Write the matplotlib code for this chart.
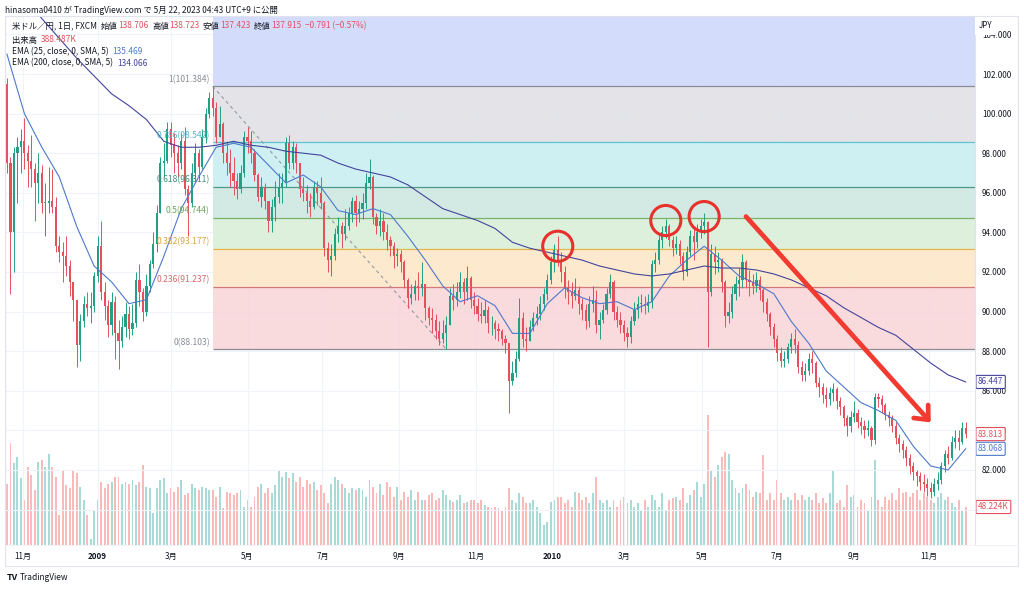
import numpy as np
import pandas as pd
import matplotlib
matplotlib.use("Agg")
import matplotlib.pyplot as plt
from matplotlib.patches import Rectangle

plt.rcParams['font.family'] = ['Noto Sans CJK JP', 'DejaVu Sans']

W, H = 1024, 589

# ---- data (one candle = 2 trading days) ----
start_date = "2008-10-21"
first_open = 101.5

closes = [
    97.5, 94.0, 98.0, 98.3, 98.6, 98.0, 97.6, 97.2, 96.5, 97.0,
    95.5, 95.5, 95.6, 95.3, 93.3, 93.0, 92.8, 92.3, 91.5, 90.6,
    88.3, 89.5, 90.4, 90.2, 90.3, 91.8, 93.3, 91.0, 90.3, 89.3,
    90.5, 88.9, 88.5, 89.2, 89.9, 89.1, 89.4, 91.6, 91.0, 90.0,
    91.3, 92.4, 93.4, 95.0, 97.5, 97.6, 99.2, 98.4, 98.0, 97.5,
    98.6, 96.2, 95.5, 97.0, 98.0, 97.3, 98.8, 100.0, 100.8, 100.3,
    98.8, 99.5, 98.0, 97.5, 97.0, 96.6, 96.2, 97.0, 98.8, 98.6,
    98.0, 96.9, 95.8, 96.3, 95.6, 94.6, 95.3, 95.8, 96.3, 96.5,
    98.5, 97.5, 98.3, 97.5, 96.2, 96.0, 95.6, 95.3, 96.3, 96.0,
    95.5, 93.2, 92.6, 92.8, 93.9, 94.3, 93.9, 94.3, 95.0, 95.6,
    95.0, 95.2, 95.5, 96.5, 96.8, 94.8, 94.3, 94.6, 94.0, 93.6,
    93.3, 92.8, 92.9, 92.5, 91.6, 90.7, 90.9, 91.3, 91.2, 91.4,
    90.2, 89.7, 89.6, 89.0, 88.6, 88.9, 89.3, 90.8, 90.6, 91.0,
    91.5, 91.0, 91.7, 90.6, 90.3, 89.9, 89.8, 90.1, 89.4, 89.4,
    89.1, 89.0, 88.6, 88.4, 86.5, 86.9, 87.6, 89.7, 88.6, 88.5,
    89.2, 89.7, 89.9, 90.4, 90.9, 91.6, 92.5, 93.1, 92.6, 92.0,
    91.2, 91.0, 90.8, 91.1, 90.4, 90.1, 89.5, 90.4, 90.6, 89.3,
    89.6, 90.1, 90.9, 91.5, 90.0, 89.6, 89.3, 88.9, 88.7, 89.5,
    90.1, 90.4, 90.4, 90.3, 90.5, 92.4, 92.6, 93.6, 94.0, 94.3,
    93.6, 93.2, 93.4, 92.8, 92.0, 93.0, 93.8, 93.5, 94.0, 94.3,
    94.5, 91.0, 92.9, 92.5, 92.6, 91.5, 89.8, 90.0, 90.9, 91.4,
    91.6, 92.5, 91.6, 91.5, 91.3, 91.6, 91.1, 90.5, 89.9, 89.2,
    88.6, 87.9, 87.5, 87.6, 88.2, 88.6, 88.3, 87.2, 86.8, 87.0,
    87.6, 87.4, 86.4, 86.2, 85.8, 85.6, 85.9, 86.1, 85.5, 85.2,
    84.6, 84.2, 84.7, 84.9, 84.4, 84.2, 84.0, 84.1, 83.5, 85.7,
    85.6, 85.3, 84.8, 84.6, 84.2, 83.6, 83.3, 83.0, 82.6, 82.2,
    81.9, 81.7, 81.4, 81.3, 81.1, 80.9, 81.3, 81.5, 82.2, 82.8,
    82.6, 83.4, 83.6, 83.4, 84.1, 83.813,
]

highs = [
    101.8, 97.8, 98.3, 98.8, 99.2, 99.8, 98.4, 98.9, 97.5, 98.0,
    97.4, 96.5, 97.3, 97.2, 95.8, 93.8, 93.5, 93.8, 92.6, 91.5,
    90.5, 89.9, 90.8, 91.0, 91.0, 92.0, 93.8, 94.6, 91.5, 90.6,
    91.0, 90.8, 89.6, 89.8, 90.5, 90.3, 90.4, 92.0, 92.4, 91.2,
    91.9, 92.6, 94.0, 95.4, 97.8, 98.5, 99.6, 99.6, 99.0, 98.4,
    99.0, 99.3, 96.4, 97.5, 98.5, 98.2, 99.2, 100.3, 101.1, 101.38,
    100.6, 100.4, 99.6, 98.6, 98.2, 97.8, 97.0, 97.4, 99.1, 99.3,
    99.1, 98.2, 97.0, 96.8, 96.5, 95.6, 95.7, 96.6, 97.0, 97.0,
    98.8, 98.9, 98.6, 98.5, 97.5, 96.8, 96.4, 96.0, 96.6, 96.6,
    96.8, 95.6, 93.5, 93.4, 94.2, 94.8, 94.5, 95.2, 95.3, 95.8,
    95.9, 95.6, 96.0, 97.0, 97.7, 96.9, 95.0, 95.2, 95.0, 94.4,
    93.8, 93.5, 93.2, 93.1, 92.6, 91.7, 91.4, 91.6, 92.0, 92.5,
    91.4, 90.3, 90.2, 89.9, 89.5, 89.6, 89.8, 91.2, 91.4, 91.5,
    92.0, 91.7, 92.3, 91.8, 91.0, 90.7, 90.5, 90.6, 90.3, 89.8,
    89.6, 89.4, 89.1, 88.8, 88.4, 87.5, 88.0, 90.7, 90.0, 89.2,
    89.6, 90.0, 90.3, 90.8, 91.2, 91.9, 92.8, 93.4, 93.8, 93.0,
    92.3, 91.6, 91.5, 91.7, 91.3, 90.7, 90.4, 90.8, 91.3, 91.1,
    90.0, 90.4, 91.2, 91.9, 91.6, 90.3, 90.0, 89.6, 89.2, 89.8,
    90.5, 90.8, 90.9, 90.8, 90.9, 92.6, 93.0, 93.9, 94.3, 94.7,
    94.4, 93.8, 93.8, 93.6, 93.0, 93.3, 94.1, 94.2, 94.4, 94.7,
    95.0, 94.6, 93.4, 93.3, 93.0, 92.7, 91.6, 90.5, 91.3, 91.8,
    92.2, 92.9, 92.6, 92.1, 91.9, 92.0, 91.8, 91.2, 90.7, 90.0,
    89.4, 88.8, 88.2, 88.0, 88.4, 88.9, 89.1, 88.5, 87.5, 87.4,
    87.9, 88.0, 87.5, 86.7, 86.4, 86.2, 86.2, 86.4, 86.2, 85.7,
    85.3, 84.8, 85.0, 85.5, 85.1, 84.7, 84.5, 84.5, 84.2, 85.9,
    85.9, 85.8, 85.4, 85.0, 84.8, 84.4, 83.8, 83.5, 83.2, 82.8,
    82.4, 82.0, 81.9, 81.8, 81.6, 81.4, 81.6, 81.9, 82.4, 83.0,
    83.2, 83.7, 84.0, 84.0, 84.4, 84.4,
]

lows = [
    97.0, 90.9, 92.0, 95.5, 97.0, 97.2, 96.3, 96.3, 94.6, 95.5,
    95.0, 93.8, 95.0, 95.0, 93.0, 92.5, 91.5, 91.8, 90.8, 89.5,
    87.2, 87.5, 89.2, 89.8, 89.4, 90.0, 91.5, 90.6, 89.6, 88.7,
    88.8, 87.6, 87.1, 88.2, 88.7, 88.6, 88.8, 89.2, 90.3, 89.5,
    89.8, 91.0, 92.2, 93.0, 95.0, 96.8, 97.5, 97.8, 97.0, 96.8,
    97.2, 95.9, 93.8, 95.3, 96.6, 96.7, 97.2, 98.5, 99.8, 99.9,
    98.5, 98.8, 97.5, 96.9, 96.3, 95.9, 95.7, 96.0, 96.8, 98.0,
    97.5, 96.6, 95.6, 95.3, 95.2, 94.0, 94.0, 94.6, 95.5, 95.5,
    96.3, 97.2, 97.2, 97.0, 95.8, 95.6, 95.0, 94.8, 95.2, 95.4,
    95.2, 92.8, 92.0, 91.8, 92.6, 93.5, 93.2, 93.6, 94.1, 94.5,
    94.3, 94.5, 94.7, 95.2, 96.2, 94.4, 93.9, 93.8, 93.6, 93.1,
    92.8, 92.2, 92.3, 92.0, 91.2, 90.2, 90.4, 90.6, 90.6, 90.8,
    89.6, 89.3, 88.9, 88.6, 88.3, 88.4, 88.1, 89.3, 90.1, 90.3,
    90.7, 90.4, 90.6, 90.2, 89.9, 89.5, 89.4, 89.4, 88.9, 88.8,
    88.6, 88.5, 88.3, 87.9, 84.9, 86.3, 86.7, 87.5, 88.2, 88.0,
    88.5, 89.0, 89.3, 89.6, 90.1, 90.6, 91.4, 92.0, 92.3, 91.5,
    90.7, 90.4, 90.2, 90.6, 89.9, 89.6, 89.1, 89.2, 90.0, 88.9,
    88.6, 89.4, 89.9, 90.7, 89.6, 89.2, 88.9, 88.5, 88.2, 88.4,
    89.3, 89.7, 90.0, 89.9, 90.0, 90.2, 92.0, 92.4, 93.2, 93.7,
    93.3, 92.8, 92.9, 92.4, 91.6, 91.8, 92.8, 92.6, 93.2, 93.7,
    93.9, 88.2, 90.8, 91.9, 92.0, 91.0, 89.2, 89.4, 89.7, 90.6,
    90.8, 91.2, 91.2, 90.8, 90.9, 91.0, 90.6, 90.0, 89.5, 88.8,
    88.2, 87.5, 87.2, 87.2, 87.4, 87.9, 87.9, 86.9, 86.5, 86.5,
    86.8, 86.9, 86.2, 85.7, 85.4, 85.2, 85.3, 85.5, 85.1, 84.8,
    84.2, 83.7, 83.9, 84.4, 84.1, 83.8, 83.6, 83.7, 83.2, 83.3,
    85.2, 84.9, 84.5, 84.2, 83.9, 83.3, 82.9, 82.6, 82.2, 81.8,
    81.5, 81.2, 81.0, 80.9, 80.7, 80.6, 80.7, 81.0, 81.3, 81.9,
    82.3, 82.5, 83.1, 83.0, 83.3, 83.6,
]

# volume in thousands
volumes = [
    78, 130, 104, 111, 85, 57, 99, 89, 70, 105,
    108, 99, 116, 99, 86, 38, 95, 76, 72, 95,
    91, 73, 57, 38, 7, 44, 57, 80, 72, 78,
    80, 86, 86, 78, 80, 78, 82, 76, 80, 101,
    73, 72, 40, 72, 82, 85, 66, 72, 67, 73,
    82, 63, 66, 78, 72, 70, 73, 72, 70, 70,
    61, 73, 47, 67, 66, 63, 66, 70, 48, 57,
    48, 61, 73, 78, 66, 72, 66, 76, 95, 86,
    92, 85, 91, 80, 86, 73, 82, 78, 80, 70,
    76, 66, 53, 78, 86, 82, 78, 72, 66, 72,
    70, 72, 70, 61, 82, 73, 66, 78, 63, 80,
    73, 61, 73, 57, 67, 61, 70, 57, 67, 57,
    57, 63, 66, 57, 59, 70, 63, 57, 54, 57,
    63, 53, 54, 57, 57, 53, 57, 51, 48, 47,
    48, 47, 44, 48, 72, 57, 53, 66, 61, 53,
    53, 57, 48, 40, 25, 29, 54, 57, 61, 61,
    53, 57, 48, 67, 66, 57, 61, 53, 66, 86,
    57, 53, 57, 48, 57, 48, 57, 61, 53, 57,
    48, 53, 44, 57, 48, 63, 57, 48, 66, 44,
    57, 59, 61, 57, 72, 53, 63, 70, 80, 61,
    78, 165, 95, 86, 101, 111, 118, 116, 82, 72,
    66, 72, 78, 70, 61, 67, 66, 114, 57, 66,
    57, 82, 66, 57, 61, 57, 66, 57, 63, 57,
    61, 57, 66, 53, 59, 53, 66, 95, 53, 57,
    48, 76, 61, 63, 48, 57, 53, 44, 61, 108,
    57, 48, 61, 57, 66, 57, 72, 66, 67, 61,
    66, 70, 57, 66, 61, 57, 53, 61, 66, 57,
    61, 53, 48, 57, 44, 48.224,
]

# EMA lines, one value every 5 candles
ema_step = 5
ema25 = [
    103.0, 100.0, 98.3, 96.8, 94.3, 92.3, 91.5, 90.4, 90.6, 92.8,
    95.2, 96.8, 98.3, 98.5, 98.3, 97.4, 96.5, 96.9, 96.3, 95.1,
    94.9, 95.2, 94.9, 93.8, 92.6, 91.3, 90.5, 90.8, 90.3, 88.9,
    88.9, 90.4, 91.2, 90.7, 90.4, 90.5, 90.1, 90.5, 91.8, 92.6,
    93.3, 92.6, 91.8, 91.4, 90.9, 89.5, 88.4, 87.0, 86.2, 85.4,
    85.0, 84.5, 83.2, 82.2, 82.0, 83.068,
]
ema200 = [
    106.8, 105.8, 104.8, 103.8, 102.8, 101.9, 101.0, 100.4, 99.7, 98.6,
    98.3, 98.3, 98.4, 98.6, 98.4, 98.3, 98.1, 98.0, 97.9, 97.5,
    97.2, 97.0, 96.8, 96.4, 95.8, 95.2, 94.9, 94.6, 94.2, 93.5,
    93.2, 93.0, 92.8, 92.6, 92.3, 92.1, 91.9, 91.8, 91.9, 92.1,
    92.3, 92.2, 92.2, 92.1, 91.9, 91.6, 91.2, 90.8, 90.2, 89.7,
    89.2, 88.8, 88.1, 87.4, 86.8, 86.447,
]

# fibonacci retracement drawn from the April 2009 high to the October 2009 low
fib_ratios = [1, 0.786, 0.618, 0.5, 0.382, 0.236, 0]
fib_prices = [101.384, 98.542, 96.311, 94.744, 93.177, 91.237, 88.103]
fib_idx = [59, 126]

# hand drawn marks
circle_idx = [158, 189, 200]
circle_price = [93.3, 94.6, 94.8]
arrow_from = (212, 94.8)
arrow_to = (265, 84.4)

# ---- styles ----
UP = '#22a085'
DOWN = '#e4505c'
VOL_UP = '#a8dbd7'
VOL_DOWN = '#f9bab9'
TXT = '#131722'
RED = '#e0525e'
EMA25_C = '#4f78cc'
EMA200_C = '#44449c'
band_colors = ['#cfdafb', '#e1e2e6', '#c9eff2', '#cde8e0', '#d9efd9', '#fde8c9', '#f9d6da']
line_colors = ['#8a8d96', '#5ec3d1', '#4c9a85', '#7cb36a', '#e6b54a', '#d4787c', '#8a8d96']
label_colors = ['#8a8d96', '#4fb6c6', '#3f8f7a', '#6aa85a', '#d9a43a', '#d26a70', '#8a8d96']

N = len(closes)
x = np.arange(N)
closes_a = np.array(closes)
opens_a = np.array([first_open] + closes[:-1])
highs_a = np.array(highs)
lows_a = np.array(lows)
up = closes_a >= opens_a

XMIN, XMAX = -0.57, 277.7
YMIN, YMAX = 78.21, 104.93
VMAX = 671

fig = plt.figure(figsize=(W / 100, H / 100), dpi=100)
fig.patch.set_facecolor('white')
rect = [5 / W, 1 - 545 / H, 970 / W, 529 / H]

# volume pane sits underneath the price pane
vax = fig.add_axes(rect, zorder=0)
vax.set_xlim(XMIN, XMAX)
vax.set_ylim(0, VMAX)
vax.axis('off')
vax.bar(x, volumes, width=0.55, color=np.where(up, VOL_UP, VOL_DOWN), linewidth=0)

ax = fig.add_axes(rect, zorder=1)
ax.patch.set_visible(False)
ax.set_xlim(XMIN, XMAX)
ax.set_ylim(YMIN, YMAX)
for s in ax.spines.values():
    s.set_visible(False)

# month ticks
months = pd.date_range('2008-11-01', '2010-11-01', freq='2MS')
tick_pos = [np.busday_count(start_date, m.strftime('%Y-%m-%d')) / 2 for m in months]
tick_lab = [str(m.year) if m.month == 1 else f"{m.month}月" for m in months]
ax.set_xticks(tick_pos)
ax.set_xticklabels(tick_lab)
ax.tick_params(axis='x', length=0, pad=5, labelsize=5.8, labelcolor=TXT)
for t in ax.get_xticklabels():
    if t.get_text().startswith('20'):
        t.set_fontweight('bold')

price_ticks = np.arange(80, 106, 2)
ax.set_yticks(price_ticks)
ax.set_yticklabels([f"{p:.3f}" for p in price_ticks])
ax.yaxis.tick_right()
ax.tick_params(axis='y', length=0, pad=5, labelsize=5.8, labelcolor=TXT)

for p in price_ticks:
    ax.axhline(p, color='#f0f3fa', lw=0.8, zorder=0)
for t in tick_pos:
    ax.axvline(t, color='#f0f3fa', lw=0.8, zorder=0)

# fib bands
fx0 = fib_idx[0]
tops = [YMAX] + fib_prices[:-1]
for top, bot, c in zip(tops, fib_prices, band_colors):
    ax.add_patch(Rectangle((fx0, bot), XMAX - fx0, top - bot, facecolor=c,
                           edgecolor='none', alpha=0.9, zorder=0.5))
ax.hlines(fib_prices, fx0, XMAX, colors=line_colors, lw=0.9, zorder=1)
for r, p, c in zip(fib_ratios, fib_prices, label_colors):
    ax.text(fx0 - 0.8, p + 0.12, f"{r}({p:.3f})", ha='right', va='bottom',
            fontsize=6.2, color=c, zorder=5)
ax.plot([fib_idx[0], fib_idx[1]], [fib_prices[0], fib_prices[-1]],
        ls=(0, (3, 3)), color='#9598a1', lw=0.8, zorder=1.2)

# candles
col = np.where(up, UP, DOWN)
ax.vlines(x, lows_a, highs_a, colors=col, lw=0.7, zorder=3)
body_lo = np.minimum(opens_a, closes_a)
body_h = np.maximum(np.abs(closes_a - opens_a), 0.04)
ax.bar(x, body_h, bottom=body_lo, width=0.62, color=col, linewidth=0, zorder=3.1)

# EMAs
ex = np.arange(0, N, ema_step)
ax.plot(ex, ema25, color=EMA25_C, lw=0.8, zorder=4)
ax.plot(ex, ema200, color=EMA200_C, lw=0.8, zorder=4)

# circles and arrow
ax.scatter(circle_idx, circle_price, s=470, facecolors='none', edgecolors='#e8302c',
           linewidths=2.2, zorder=6)
ax.annotate('', xy=arrow_to, xytext=arrow_from,
            arrowprops=dict(arrowstyle='->,head_length=0.8,head_width=0.7',
                            lw=3.4, color='#f23a30', shrinkA=0, shrinkB=0,
                            mutation_scale=10), zorder=6)

# last value boxes on the price scale
def scale_box(val, txt, color):
    ax.text(1.0 + 3 / 970, val, txt, transform=ax.get_yaxis_transform(),
            ha='left', va='center', fontsize=5.9, color=color, zorder=10, clip_on=False,
            bbox=dict(boxstyle='round,pad=0.25,rounding_size=0.15', fc='white', ec=color, lw=0.8))

scale_box(ema200[-1], f"{ema200[-1]:.3f}", EMA200_C)
scale_box(closes[-1], f"{closes[-1]:.3f}", DOWN)
scale_box(ema25[-1], f"{ema25[-1]:.3f}", EMA25_C)
# volume value mapped onto the price scale of the shared pane
scale_box(YMIN + volumes[-1] / VMAX * (YMAX - YMIN), f"{volumes[-1]:.3f}K", DOWN)

# frame
def fxp(px):
    return px / W
def fyp(py):
    return 1 - py / H

frame = Rectangle((fxp(5), fyp(566)), fxp(1018) - fxp(5), fyp(16) - fyp(566),
                  transform=fig.transFigure, fill=False, ec='#e0e3eb', lw=0.8)
fig.patches.append(frame)
fig.add_artist(plt.Line2D([fxp(975), fxp(975)], [fyp(16), fyp(545)], color='#e0e3eb', lw=0.8))
fig.add_artist(plt.Line2D([fxp(5), fxp(1018)], [fyp(545), fyp(545)], color='#eef0f4', lw=0.6))

fig.text(fxp(979), fyp(26), "JPY", fontsize=5.8, color=TXT, va='center', ha='left',
         bbox=dict(boxstyle='square,pad=0.5', fc='white', ec='none'), zorder=20)

# header and legend
fig.text(fxp(5), fyp(10), "hinasoma0410 が TradingView.com で 5月 22, 2023 04:43 UTC+9 に公開",
         fontsize=6.0, color=TXT, va='center', ha='left')

renderer = fig.canvas.get_renderer()
def legend_line(px, py, parts):
    for txt, c, gap in parts:
        t = fig.text(fxp(px), fyp(py), txt, fontsize=6.0, color=c, va='center', ha='left', zorder=20)
        px += t.get_window_extent(renderer).width + gap

legend_line(12, 26, [("米ドル／円, 1日, FXCM", TXT, 4), ("始値", TXT, 0), ("138.706", RED, 4),
                     ("高値", TXT, 0), ("138.723", RED, 4), ("安値", TXT, 0), ("137.423", RED, 4),
                     ("終値", TXT, 0), ("137.915", RED, 4), ("−0.791 (−0.57%)", RED, 0)])
legend_line(12, 40, [("出来高", TXT, 4), ("388.487K", RED, 0)])
legend_line(12, 52, [("EMA (25, close, 0, SMA, 5)", TXT, 4), ("135.469", EMA25_C, 0)])
legend_line(12, 63, [("EMA (200, close, 0, SMA, 5)", TXT, 4), ("134.066", EMA200_C, 0)])

fig.text(fxp(7), fyp(578), "TV", fontsize=6.5, fontweight='bold', color=TXT, va='center', ha='left')
fig.text(fxp(20), fyp(578), "TradingView", fontsize=6, color=TXT, va='center', ha='left')

fig.savefig("out.png", dpi=100, facecolor='white')
